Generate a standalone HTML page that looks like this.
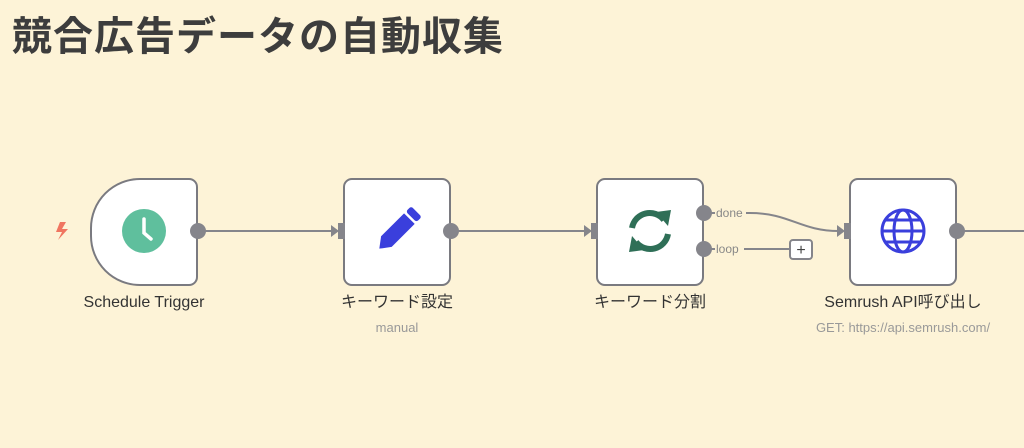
<!DOCTYPE html>
<html><head><meta charset="utf-8"><style>
body{margin:0;width:1024px;height:448px;background:#fdf3d7;overflow:hidden;position:relative;font-family:"Liberation Sans","Noto Sans CJK JP",sans-serif}
h1{position:absolute;left:12px;top:8px;margin:0;font-size:40px;font-weight:bold;color:#3d3d3d;font-family:"Liberation Sans","Noto Sans CJK JP",sans-serif;letter-spacing:1px;line-height:58px}
.n{position:absolute;top:178px;width:104px;height:104px;background:#fff;border:2px solid #7a7a80;border-radius:9px}
.l{position:absolute;top:293px;font-size:16px;line-height:20px;height:20px;color:#333;text-align:center;width:240px}
.s{position:absolute;top:320px;font-size:13px;line-height:16px;height:16px;color:#999;text-align:center;width:260px}
</style></head><body>
<h1>競合広告データの自動収集</h1>
<div class="n" style="left:90px;border-radius:50px 9px 9px 50px"></div>
<div class="n" style="left:343px"></div>
<div class="n" style="left:596px"></div>
<div class="n" style="left:849px"></div>
<svg width="1024" height="448" style="position:absolute;left:0;top:0">
<g stroke="#85858b" stroke-width="2" fill="none">
<line x1="198" y1="231" x2="333" y2="231"/>
<line x1="451" y1="231" x2="586" y2="231"/>
<path d="M704 213 H750 C790 213 800 231 839 231"/>
<line x1="704" y1="249" x2="790" y2="249"/>
<line x1="957" y1="231" x2="1024" y2="231"/>
</g>
<g fill="#85858b">
<circle cx="198" cy="231" r="8"/><circle cx="451" cy="231" r="8"/>
<circle cx="704" cy="213" r="8"/><circle cx="704" cy="249" r="8"/><circle cx="957" cy="231" r="8"/>
<polygon points="331,225 339,231 331,237"/><rect x="338" y="223" width="7" height="16"/>
<polygon points="584,225 592,231 584,237"/><rect x="591" y="223" width="7" height="16"/>
<polygon points="837,225 845,231 837,237"/><rect x="844" y="223" width="7" height="16"/>
</g>
<rect x="790" y="240" width="22" height="19" rx="3" fill="#fff" stroke="#85858b" stroke-width="2"/>
<text x="801" y="255" font-size="16" text-anchor="middle" fill="#444" font-family="Liberation Sans">+</text>
<g font-family="Liberation Sans" font-size="12" fill="#888">
<rect x="715" y="206" width="31" height="14" fill="#fdf3d7"/><text x="716" y="217">done</text>
<rect x="715" y="242" width="29" height="14" fill="#fdf3d7"/><text x="716" y="253">loop</text>
</g>
<polygon points="60,222 56,232 62,232 58,240 68,229 62,229 66,222" fill="#f07560"/>
<circle cx="144" cy="231" r="22" fill="#5fbf9d"/>
<path d="M144 219 V233 L151 239" stroke="#fff" stroke-width="3.5" fill="none" stroke-linecap="round"/>
<g transform="translate(397,231) rotate(45) scale(1.25)">
<rect x="-6" y="-22" width="12" height="6" rx="2" fill="#3a3fdc"/>
<path d="M-6 -14 H6 V12 L0 20 L-6 12 Z" fill="#3a3fdc"/>
</g>
<g fill="none" stroke="#2f6f57" stroke-width="6">
<path d="M632 228 A18 18 0 0 1 664 220"/>
<path d="M668 234 A18 18 0 0 1 636 242"/>
</g>
<polygon points="656,212 671,210 668,226" fill="#2f6f57"/>
<polygon points="644,250 629,252 632,236" fill="#2f6f57"/>
<g fill="none" stroke="#3a3fdc" stroke-width="3">
<circle cx="903" cy="231" r="21"/>
<ellipse cx="903" cy="231" rx="9" ry="21"/>
<line x1="882" y1="231" x2="924" y2="231"/>
<path d="M886 220 H920 M886 242 H920"/>
</g>
</svg>
<div class="l" style="left:24px">Schedule Trigger</div>
<div class="l" style="left:277px">キーワード設定</div>
<div class="s" style="left:267px">manual</div>
<div class="l" style="left:530px">キーワード分割</div>
<div class="l" style="left:783px">Semrush API呼び出し</div>
<div class="s" style="width:280px;left:763px">GET: https://api.semrush.com/</div>
</body></html>
